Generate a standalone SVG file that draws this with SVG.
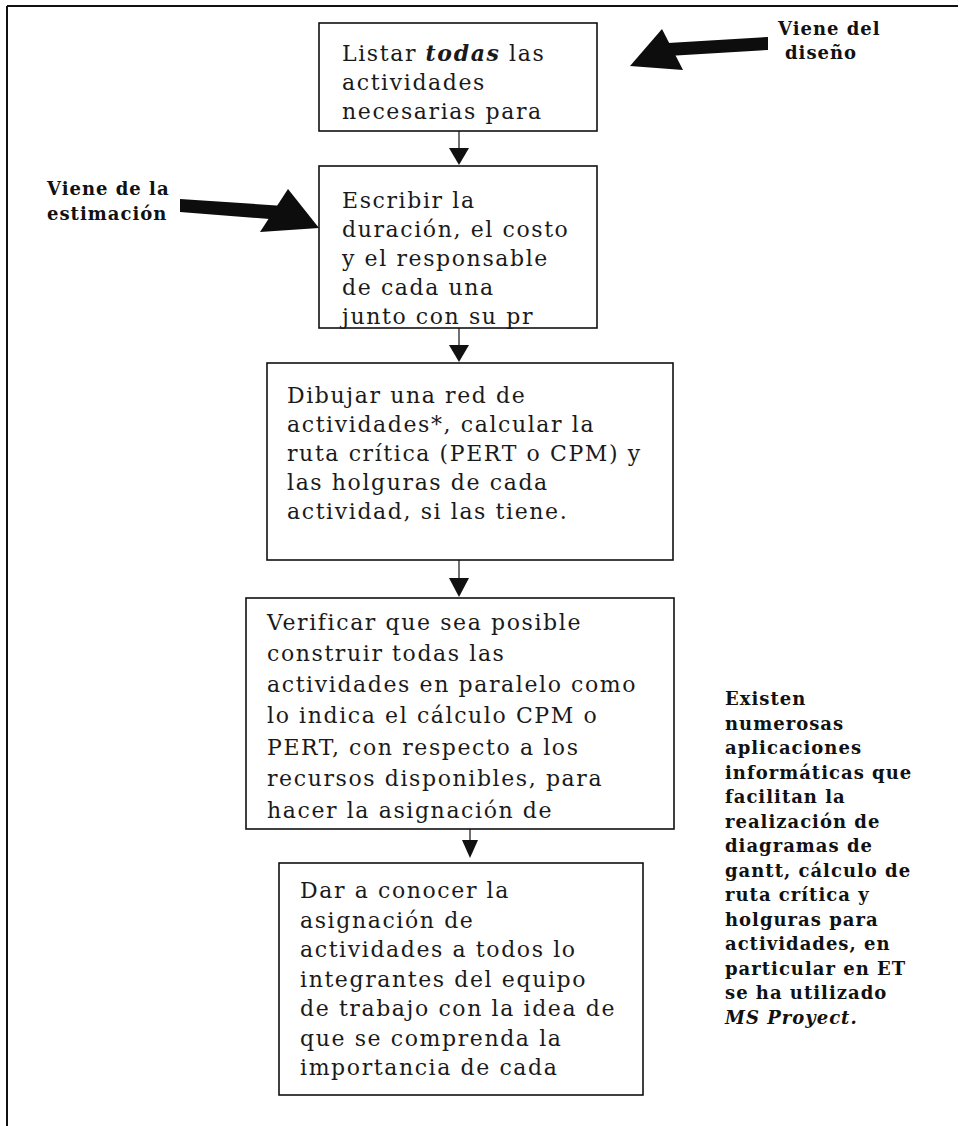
<svg xmlns="http://www.w3.org/2000/svg" width="961" height="1126" viewBox="0 0 961 1126">
  <style>
    .box { fill: #ffffff; stroke: #111111; stroke-width: 1.6; }
    .frame { stroke: #111111; stroke-width: 2; fill: none; }
    .body { font-family: "DejaVu Serif", "Liberation Serif", serif; font-size: 22px; letter-spacing: 1.6px; fill: #1a1a1a; }
    .note { font-family: "DejaVu Serif", "Liberation Serif", serif; font-size: 18px; font-weight: bold; letter-spacing: 1px; fill: #111111; }
    .emph { font-weight: bold; font-style: italic; }
    .link { stroke: #111111; stroke-width: 1.2; fill: none; }
    .head { fill: #111111; }
    .big { fill: #0d0d0d; }
  </style>

  <!-- page frame: top rule and left rule -->
  <g id="frame">
    <line class="frame" x1="7" y1="6" x2="958" y2="6"/>
    <line class="frame" x1="7" y1="6" x2="7" y2="1126"/>
  </g>

  <!-- flow connectors between the steps, plus the two incoming block arrows -->
  <g id="connectors">
    <line class="link" x1="459" y1="131" x2="459" y2="150"/>
    <polygon class="head" points="449,148 469,148 459,165"/>
    <line class="link" x1="459" y1="328" x2="459" y2="347"/>
    <polygon class="head" points="449,345 469,345 459,362"/>
    <line class="link" x1="459" y1="560" x2="459" y2="580"/>
    <polygon class="head" points="449,578 469,578 459,597"/>
    <line class="link" x1="470" y1="829" x2="470" y2="842"/>
    <polygon class="head" points="462,840 478,840 470,858"/>

    <!-- "Viene de la estimación" block arrow -->
    <polygon class="big" points="180,199 284,206 282,220 180,212"/>
    <polygon class="big" points="288,189 319,228 260,232"/>
    <!-- "Viene del diseño" block arrow -->
    <polygon class="big" points="668,43 768,37 768,50 668,56"/>
    <polygon class="big" points="662,29 630,66 683,70"/>
  </g>

  <g id="step-listar">
    <rect class="box" x="319" y="23" width="278" height="108"/>
    <text class="body" x="342" y="61">Listar <tspan class="emph">todas</tspan> las</text>
    <text class="body" x="342" y="90">actividades</text>
    <text class="body" x="342" y="119">necesarias para</text>
  </g>

  <g id="step-escribir">
    <rect class="box" x="319" y="166" width="278" height="162"/>
    <text class="body" x="342" y="208">Escribir la</text>
    <text class="body" x="342" y="237">duración, el costo</text>
    <text class="body" x="342" y="266">y el responsable</text>
    <text class="body" x="342" y="295">de cada una</text>
    <text class="body" x="342" y="324">junto con su pr</text>
  </g>

  <g id="step-dibujar">
    <rect class="box" x="267" y="363" width="406" height="197"/>
    <text class="body" x="287" y="403">Dibujar una red de</text>
    <text class="body" x="287" y="432">actividades*, calcular la</text>
    <text class="body" x="287" y="461">ruta crítica (PERT o CPM) y</text>
    <text class="body" x="287" y="490">las holguras de cada</text>
    <text class="body" x="287" y="519">actividad, si las tiene.</text>
  </g>

  <g id="step-verificar">
    <rect class="box" x="246" y="598" width="428" height="231"/>
    <text class="body" x="267" y="630">Verificar que sea posible</text>
    <text class="body" x="267" y="661">construir todas las</text>
    <text class="body" x="267" y="692">actividades en paralelo como</text>
    <text class="body" x="267" y="723">lo indica el cálculo CPM o</text>
    <text class="body" x="267" y="755">PERT, con respecto a los</text>
    <text class="body" x="267" y="786">recursos disponibles, para</text>
    <text class="body" x="267" y="818">hacer la asignación de</text>
  </g>

  <g id="step-dar">
    <rect class="box" x="279" y="863" width="364" height="232"/>
    <text class="body" x="300" y="898">Dar a conocer la</text>
    <text class="body" x="300" y="928">asignación de</text>
    <text class="body" x="300" y="957">actividades a todos lo</text>
    <text class="body" x="300" y="987">integrantes del equipo</text>
    <text class="body" x="300" y="1016">de trabajo con la idea de</text>
    <text class="body" x="300" y="1046">que se comprenda la</text>
    <text class="body" x="300" y="1075">importancia de cada</text>
  </g>

  <g id="note-estimacion">
    <text class="note" x="47" y="195">Viene de la</text>
    <text class="note" x="47" y="220">estimación</text>
  </g>

  <g id="note-diseno">
    <text class="note" x="778" y="35">Viene del</text>
    <text class="note" x="785" y="59">diseño</text>
  </g>

  <g id="note-aplicaciones">
    <text class="note" x="725" y="705">Existen</text>
    <text class="note" x="725" y="730">numerosas</text>
    <text class="note" x="725" y="754">aplicaciones</text>
    <text class="note" x="725" y="779">informáticas que</text>
    <text class="note" x="725" y="803">facilitan la</text>
    <text class="note" x="725" y="828">realización de</text>
    <text class="note" x="725" y="852">diagramas de</text>
    <text class="note" x="725" y="877">gantt, cálculo de</text>
    <text class="note" x="725" y="901">ruta crítica y</text>
    <text class="note" x="725" y="926">holguras para</text>
    <text class="note" x="725" y="950">actividades, en</text>
    <text class="note" x="725" y="975">particular en ET</text>
    <text class="note" x="725" y="999">se ha utilizado</text>
    <text class="note" x="725" y="1024"><tspan font-style="italic">MS Proyect.</tspan></text>
  </g>
</svg>
